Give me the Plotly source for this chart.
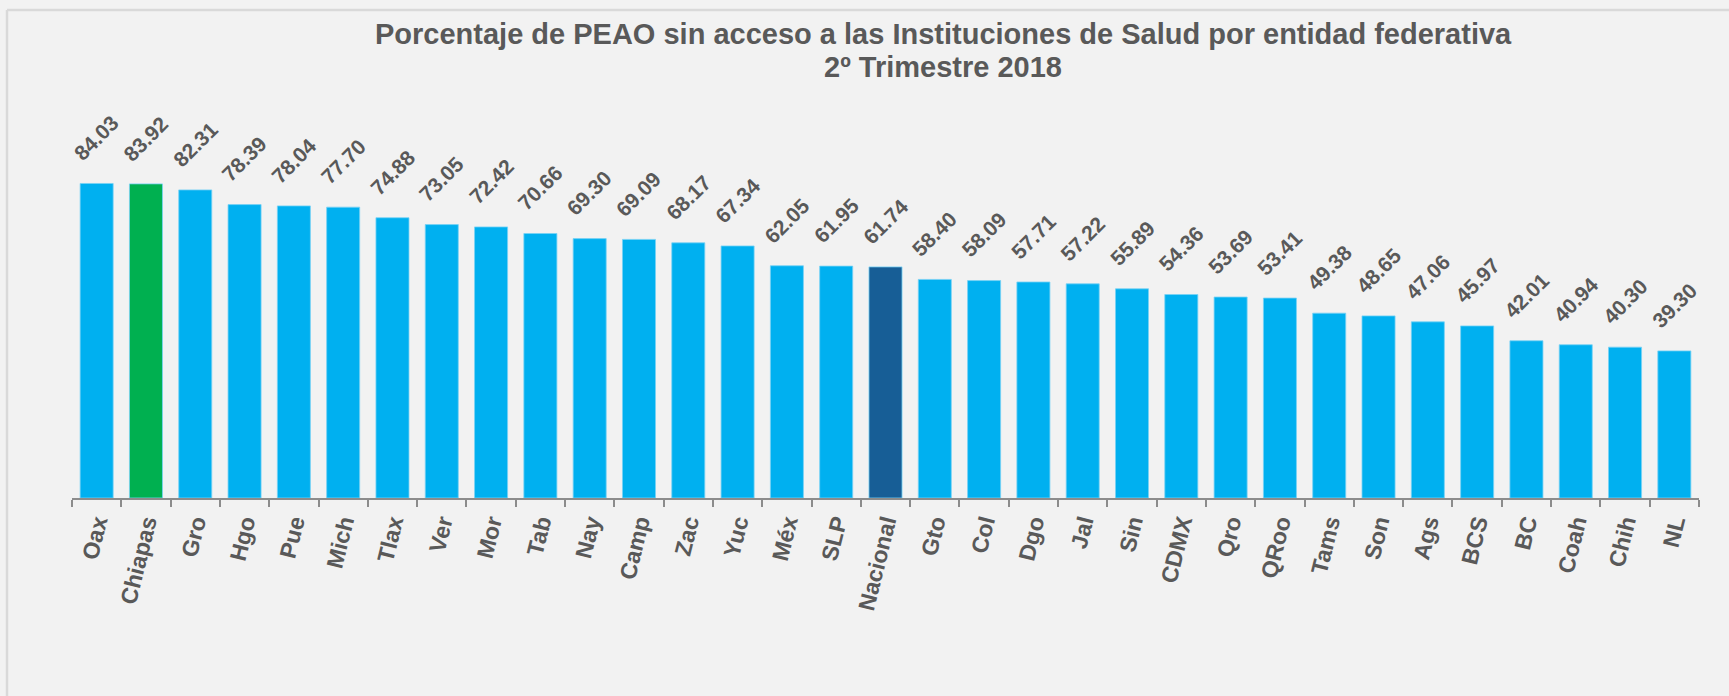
import plotly.graph_objects as go

categories = ["Oax", "Chiapas", "Gro", "Hgo", "Pue", "Mich", "Tlax", "Ver", "Mor", "Tab",
              "Nay", "Camp", "Zac", "Yuc", "Méx", "SLP", "Nacional", "Gto", "Col", "Dgo",
              "Jal", "Sin", "CDMX", "Qro", "QRoo", "Tams", "Son", "Ags", "BCS", "BC",
              "Coah", "Chih", "NL"]
values = [84.03, 83.92, 82.31, 78.39, 78.04, 77.70, 74.88, 73.05, 72.42, 70.66,
          69.30, 69.09, 68.17, 67.34, 62.05, 61.95, 61.74, 58.40, 58.09, 57.71,
          57.22, 55.89, 54.36, 53.69, 53.41, 49.38, 48.65, 47.06, 45.97, 42.01,
          40.94, 40.30, 39.30]

title_line1 = "Porcentaje de PEAO sin acceso a las Instituciones de Salud por entidad federativa"
title_line2 = "2º Trimestre 2018"

BLUE = "#00B0F0"
GREEN = "#00B050"
DARK = "#175E96"
TXT = "#595959"
FONT = "Liberation Sans, Arial, sans-serif"

colors = [GREEN if c == "Chiapas" else DARK if c == "Nacional" else BLUE for c in categories]

W, H = 1729, 696
ML, MR, MT, MB = 72, 30, 110, 198
PW, PH = W - ML - MR, H - MT - MB

fig = go.Figure(go.Bar(
    x=categories, y=values,
    marker=dict(color=colors, line=dict(color="rgba(120,210,245,0.8)", width=1)),
    hoverinfo="x+y",
))

for c, v in zip(categories, values):
    fig.add_annotation(x=c, y=v, text=f"<b>{v:.2f}</b>", showarrow=False,
                       textangle=-45, xanchor="center", yanchor="bottom", yshift=16,
                       font=dict(family=FONT, size=21, color=TXT))

def px_x(p):
    return (p - ML) / PW

def px_y(p):
    return (H - MB - p) / PH

# two-line title as annotations
for txt, ypx in ((title_line1, 34), (title_line2, 67)):
    fig.add_annotation(x=px_x(943), y=px_y(ypx), xref="paper", yref="paper",
                       text=f"<b>{txt}</b>", showarrow=False,
                       xanchor="center", yanchor="middle",
                       font=dict(family=FONT, size=29, color=TXT))

border = "#D9D9D9"
fig.add_shape(type="line", xref="paper", yref="paper", x0=px_x(7), x1=px_x(W + 20),
              y0=px_y(10), y1=px_y(10), line=dict(color=border, width=2.5))
fig.add_shape(type="line", xref="paper", yref="paper", x0=px_x(7), x1=px_x(7),
              y0=px_y(10), y1=px_y(H + 20), line=dict(color=border, width=2.5))

fig.update_layout(
    width=W, height=H,
    margin=dict(l=ML, r=MR, t=MT, b=MB, pad=0),
    paper_bgcolor="#F2F2F2", plot_bgcolor="#F2F2F2",
    bargap=0.33,
    showlegend=False,
    xaxis=dict(type="category", range=[-0.5, len(categories) - 0.5],
               showline=True, linecolor="#8C8C8C", linewidth=2,
               ticks="outside", tickson="boundaries", ticklen=7, tickwidth=2, tickcolor="#8C8C8C",
               tickangle=-76, showgrid=False,
               tickfont=dict(family=FONT, size=23, color=TXT, weight="bold")),
    yaxis=dict(range=[0, PH / 3.743], visible=False, showgrid=False, zeroline=False),
)

fig.write_html("out.html", config={"displayModeBar": False},
               post_script="document.body.style.margin='0';document.body.style.overflow='hidden';")
